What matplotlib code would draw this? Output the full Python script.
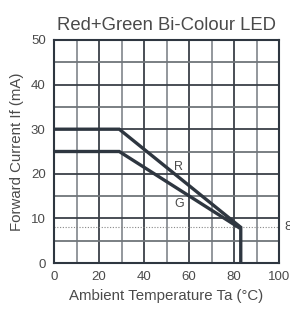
import matplotlib
matplotlib.use("Agg")
import matplotlib.pyplot as plt

plt.rcParams['font.family'] = ['Liberation Sans', 'DejaVu Sans']

title = "Red+Green Bi-Colour LED"
xlabel = "Ambient Temperature Ta (°C)"
ylabel = "Forward Current If (mA)"

r_temp = [0, 29, 83, 83]
r_curr = [30, 30, 8, 0]
g_temp = [0, 29, 82, 82]
g_curr = [25, 25, 8, 8]
dotted_level = 8
xticks = [0, 20, 40, 60, 80, 100]
yticks = [0, 10, 20, 30, 40, 50]

line_col = '#2e3640'
text_col = '#4a4a4a'

fig = plt.figure(figsize=(2.90, 3.09), dpi=100)
ax = fig.add_axes([54/290, 1-263/309, 225/290, 223/309])
ax.set_xlim(0, 100)
ax.set_ylim(0, 50)

# grid
for x in range(10, 100, 10):
    c = '#3a4048' if x % 20 == 0 else '#8a8f94'
    ax.axvline(x, color=c, lw=1.3, zorder=1)
for y in range(5, 50, 5):
    c = '#3a4048' if y % 10 == 0 else '#70757a'
    ax.axhline(y, color=c, lw=1.3, zorder=1)

ax.axhline(dotted_level, color='#888888', lw=0.8, ls=(0, (1, 1.5)), zorder=1)

ax.plot(r_temp, r_curr, color=line_col, lw=2.4, solid_joinstyle='miter', zorder=3)
ax.plot(g_temp, g_curr, color=line_col, lw=2.4, solid_joinstyle='miter', zorder=3)

ax.text(55.5, 21.5, "R", color=text_col, fontsize=9, ha='center', va='center')
ax.text(55.5, 13.2, "G", color=text_col, fontsize=9, ha='center', va='center')
ax.text(102.5, dotted_level, "8", color=text_col, fontsize=9.5, ha='left', va='center', clip_on=False)

for s in ax.spines.values():
    s.set_color(line_col)
    s.set_linewidth(1.5)

ax.set_xticks(xticks)
ax.set_yticks(yticks)
ax.tick_params(length=0, labelsize=9.5, colors=text_col, pad=6)
ax.set_title(title, fontsize=13.3, color=text_col, pad=7)
ax.set_xlabel(xlabel, fontsize=10.8, color=text_col, labelpad=4)
ax.set_ylabel(ylabel, fontsize=10.8, color=text_col, labelpad=5)

fig.savefig("out.png", dpi=100)
